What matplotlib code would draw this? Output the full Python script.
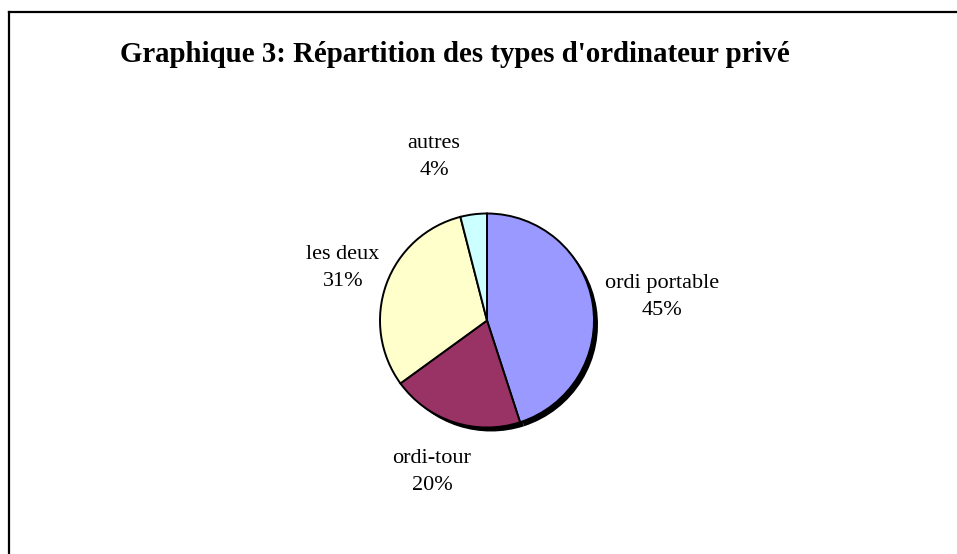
import matplotlib.pyplot as plt
from matplotlib.lines import Line2D

# Données du graphique
categories = ['ordi portable', 'ordi-tour', 'les deux', 'autres']
valeurs = [45, 20, 31, 4]
couleurs = ['#9999FF', '#993366', '#FFFFCC', '#CCFFFF']
titre = "Graphique 3: Répartition des types d'ordinateur privé"

W, H = 957, 554
fig = plt.figure(figsize=(W / 100, H / 100), dpi=100)
ax = fig.add_axes([0, 0, 1, 1])

cx, cy, r = 487, H - 320.5, 107

# ombre noire
ax.pie(valeurs, colors=['black'] * len(valeurs), startangle=90, counterclock=False,
       center=(cx + 4, cy - 4), radius=r, frame=True,
       wedgeprops=dict(linewidth=0))
# camembert
ax.pie(valeurs, colors=couleurs, startangle=90, counterclock=False,
       center=(cx, cy), radius=r, frame=True,
       wedgeprops=dict(edgecolor='black', linewidth=1.4))
ax.set_xlim(0, W)
ax.set_ylim(0, H)
ax.set_aspect('equal')
ax.axis('off')

# positions des étiquettes (pixels depuis le haut)
positions = [(662, 297), (432, 472), (343, 268), (434, 157)]
for nom, v, (x, y) in zip(categories, valeurs, positions):
    ax.text(x, H - y, f"{nom}\n{v}%", ha='center', va='center',
            fontsize=16, family='Liberation Serif', linespacing=1.55)

fig.text(455 / W, 1 - 55 / H, titre, ha='center', va='center',
         fontsize=20.8, fontweight='bold', family='Liberation Serif')

# cadre (bords gauche et haut)
fig.add_artist(Line2D([8.5 / W, 8.5 / W], [0, 1 - 11.5 / H], color='black', lw=1.6,
                      transform=fig.transFigure))
fig.add_artist(Line2D([8.5 / W, 1], [1 - 11.5 / H, 1 - 11.5 / H], color='black', lw=1.6,
                      transform=fig.transFigure))

fig.savefig('out.png', dpi=100)
